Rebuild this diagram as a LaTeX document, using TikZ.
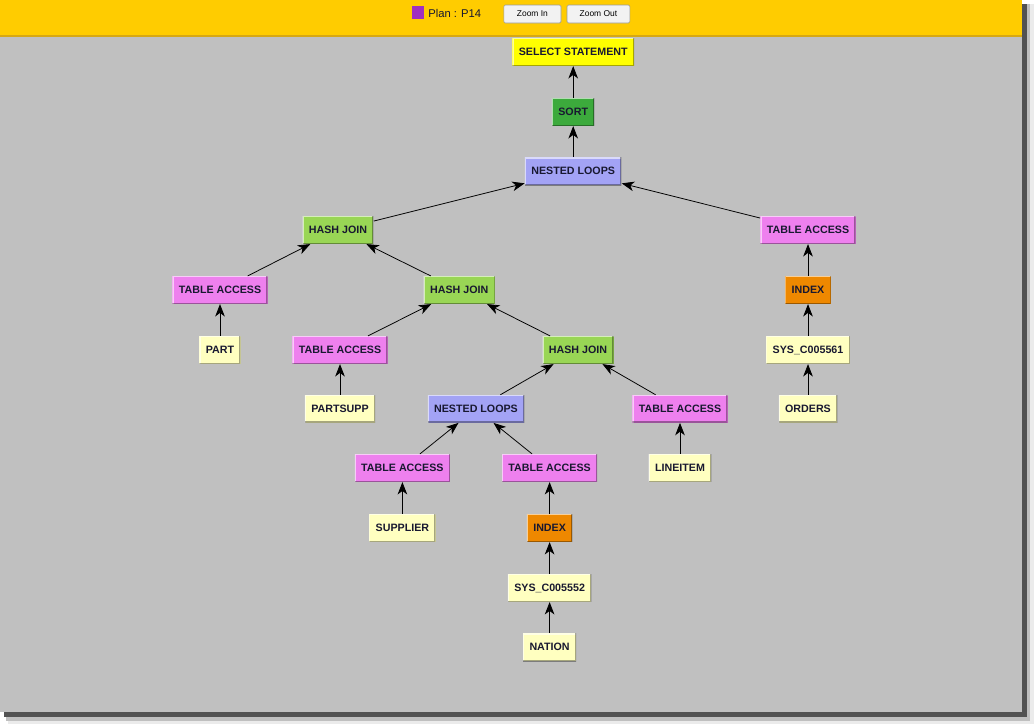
\documentclass[tikz,border=0pt]{standalone}
\usepackage{fontspec}
\setmainfont{Liberation Sans}
\usetikzlibrary{arrows.meta}

\definecolor{headYellow}{RGB}{255,204,0}
\definecolor{headEdge}{RGB}{214,168,20}
\definecolor{paneGray}{RGB}{192,192,192}
\definecolor{planPurple}{RGB}{160,48,192}
\definecolor{opText}{RGB}{24,24,48}
\definecolor{selYellow}{RGB}{255,255,0}
\definecolor{sortGreen}{RGB}{60,170,60}
\definecolor{loopBlue}{RGB}{163,163,245}
\definecolor{joinGreen}{RGB}{153,214,85}
\definecolor{accessPink}{RGB}{238,128,238}
\definecolor{indexOrange}{RGB}{238,136,0}
\definecolor{tablePale}{RGB}{255,255,192}

\begin{document}
\begin{tikzpicture}[
    op/.style={fill=#1, minimum height=0.69cm, inner xsep=0.16cm, inner ysep=0pt,
        font=\bfseries\fontsize{7.6}{9}\selectfont, text=opText,
        path picture={
            \draw[white, opacity=0.6, line width=1.6pt] (path picture bounding box.south west) |- (path picture bounding box.north east);
            \draw[black, opacity=0.35, line width=1.6pt] (path picture bounding box.south west) -| (path picture bounding box.north east);
        }},
    btn/.style={fill=white!95!black, draw=black!40, rounded corners=1pt, minimum height=0.45cm,
        inner sep=0pt, font=\fontsize{6}{7}\selectfont},
    feeds/.style={-{Stealth[length=0.31cm,width=0.24cm,inset=0.09cm]}, black, line width=0.55pt}
]
    \useasboundingbox (0,0) rectangle (25.9,-18.15);
    % Window with its shadow.
        \fill[white] (0,0) rectangle (25.9,-18.15);
        \fill[black!8] (0.2,-0.1) rectangle (25.86,-18.1);
        \fill[black!25] (0.15,-0.1) rectangle (25.76,-18.02);
        \fill[black!68] (0.1,-0.1) rectangle (25.68,-17.93);
        \fill[paneGray] (0,0) rectangle (25.55,-17.8);
        \fill[headYellow] (0,0) rectangle (25.55,-0.9);
        \draw[headEdge, line width=0.8pt] (0,-0.9) -- (25.55,-0.9);
    % Header bar.
        \fill[planPurple] (10.3,-0.15) rectangle (10.6,-0.48);
        \node[anchor=west, inner sep=0pt, font=\fontsize{8}{9}\selectfont, text=opText] (planName) at (10.7,-0.33) {Plan : P14};
        \node[btn, minimum width=1.43cm] (zoomIn) at (13.31,-0.35) {Zoom In};
        \node[btn, minimum width=1.57cm] (zoomOut) at (14.96,-0.35) {Zoom Out};
    % Below nodes are the plan steps.
        \node[op=selYellow] (select) at (14.33,-1.3) {SELECT STATEMENT};
        \node[op=sortGreen] (sort) at (14.33,-2.8) {SORT};
        \node[op=loopBlue] (loopsTop) at (14.33,-4.28) {NESTED LOOPS};
        \node[op=joinGreen] (joinA) at (8.45,-5.75) {HASH JOIN};
        \node[op=accessPink] (accOrders) at (20.2,-5.75) {TABLE ACCESS};
        \node[op=accessPink] (accPart) at (5.5,-7.25) {TABLE ACCESS};
        \node[op=joinGreen] (joinB) at (11.48,-7.25) {HASH JOIN};
        \node[op=indexOrange] (idxOrders) at (20.2,-7.25) {INDEX};
        \node[op=tablePale] (part) at (5.5,-8.75) {PART};
        \node[op=accessPink] (accPartsupp) at (8.5,-8.75) {TABLE ACCESS};
        \node[op=joinGreen] (joinC) at (14.45,-8.75) {HASH JOIN};
        \node[op=tablePale] (sysOrders) at (20.2,-8.75) {SYS\_C005561};
        \node[op=tablePale] (partsupp) at (8.5,-10.22) {PARTSUPP};
        \node[op=loopBlue] (loopsLow) at (11.9,-10.22) {NESTED LOOPS};
        \node[op=accessPink] (accLineitem) at (17.0,-10.22) {TABLE ACCESS};
        \node[op=tablePale] (orders) at (20.2,-10.22) {ORDERS};
        \node[op=accessPink] (accSupplier) at (10.06,-11.7) {TABLE ACCESS};
        \node[op=accessPink] (accNation) at (13.74,-11.7) {TABLE ACCESS};
        \node[op=tablePale] (lineitem) at (17.0,-11.7) {LINEITEM};
        \node[op=tablePale] (supplier) at (10.06,-13.2) {SUPPLIER};
        \node[op=indexOrange] (idxNation) at (13.74,-13.2) {INDEX};
        \node[op=tablePale] (sysNation) at (13.74,-14.7) {SYS\_C005552};
        \node[op=tablePale] (nation) at (13.74,-16.18) {NATION};
    % Each row source feeds its parent.
        \draw[feeds] (sort) -- (select);
        \draw[feeds] (loopsTop) -- (sort);
        \draw[feeds] (joinA) -- (loopsTop);
        \draw[feeds] (accOrders) -- (loopsTop);
        \draw[feeds] (accPart) -- (joinA);
        \draw[feeds] (joinB) -- (joinA);
        \draw[feeds] (part) -- (accPart);
        \draw[feeds] (accPartsupp) -- (joinB);
        \draw[feeds] (joinC) -- (joinB);
        \draw[feeds] (partsupp) -- (accPartsupp);
        \draw[feeds] (loopsLow) -- (joinC);
        \draw[feeds] (accLineitem) -- (joinC);
        \draw[feeds] (lineitem) -- (accLineitem);
        \draw[feeds] (accSupplier) -- (loopsLow);
        \draw[feeds] (accNation) -- (loopsLow);
        \draw[feeds] (supplier) -- (accSupplier);
        \draw[feeds] (idxNation) -- (accNation);
        \draw[feeds] (sysNation) -- (idxNation);
        \draw[feeds] (nation) -- (sysNation);
        \draw[feeds] (idxOrders) -- (accOrders);
        \draw[feeds] (sysOrders) -- (idxOrders);
        \draw[feeds] (orders) -- (sysOrders);
\end{tikzpicture}
\end{document}
